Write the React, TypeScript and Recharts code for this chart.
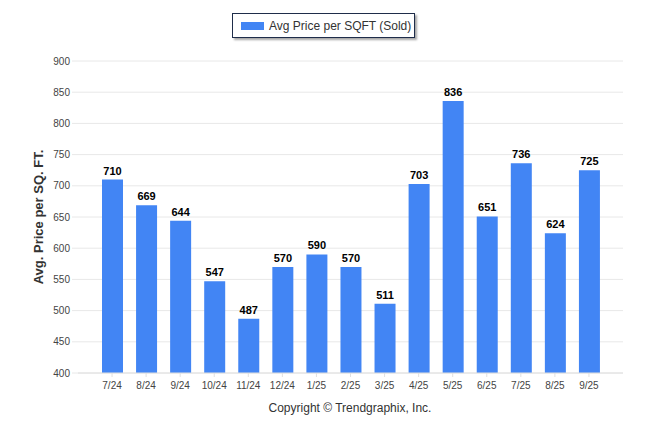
import React from "react";
import {
  BarChart,
  Bar,
  XAxis,
  YAxis,
  CartesianGrid,
  LabelList,
} from "recharts";

const months = ["7/24", "8/24", "9/24", "10/24", "11/24", "12/24", "1/25", "2/25", "3/25", "4/25", "5/25", "6/25", "7/25", "8/25", "9/25"];
const avgPrice = [710, 669, 644, 547, 487, 570, 590, 570, 511, 703, 836, 651, 736, 624, 725];
const yTicks = [400, 450, 500, 550, 600, 650, 700, 750, 800, 850, 900];

const data = months.map((m, i) => ({ month: m, price: avgPrice[i] }));

const font = "'Liberation Sans', Arial, sans-serif";

function LegendBox() {
  return (
    <div
      style={{
        position: "absolute",
        left: 232,
        top: 13,
        width: 183,
        height: 25,
        boxSizing: "border-box",
        border: "1px solid #1f2d4a",
        boxShadow: "2px 2px 2px rgba(0,0,0,0.35)",
        background: "#fff",
        display: "flex",
        alignItems: "center",
        paddingLeft: 8,
        fontFamily: font,
        fontSize: 12,
        color: "#333",
      }}
    >
      <span style={{ width: 23, height: 8, background: "#4285F4", marginRight: 5, display: "inline-block" }} />
      <span>Avg Price per SQFT (Sold)</span>
    </div>
  );
}

export default function App() {
  return (
    <div style={{ position: "absolute", left: 0, top: 0, width: 646, height: 434, background: "#fff" }}>
      <BarChart
        width={646}
        height={434}
        data={data}
        margin={{ top: 61, right: 23, left: 28, bottom: 31 }}
      >
        <CartesianGrid vertical={false} stroke="#e8e8e8" />
        <XAxis
          dataKey="month"
          padding={{ left: 17, right: 17 }}
          tick={{ fontSize: 10, fill: "#444", fontFamily: font }}
          tickLine={{ stroke: "#e0e0e0" }}
          axisLine={{ stroke: "#e0e0e0" }}
          tickSize={4}
          tickMargin={5}
          interval={0}
        />
        <YAxis
          width={50}
          domain={[400, 900]}
          ticks={yTicks}
          interval={0}
          tick={{ fontSize: 10, fill: "#444", fontFamily: font }}
          tickLine={{ stroke: "#e8e8e8" }}
          tickSize={6}
          axisLine={false}
          allowDataOverflow
          label={{
            value: "Avg. Price per SQ. FT.",
            angle: -90,
            position: "center",
            dx: -15,
            style: { fontSize: 13, fontWeight: "bold", fill: "#333", fontFamily: font },
          }}
        />
        <Bar dataKey="price" fill="#4285F4" barSize={21} isAnimationActive={false}>
          <LabelList
            dataKey="price"
            position="top"
            offset={5}
            style={{ fontSize: 11, fontWeight: "bold", fill: "#000", fontFamily: font }}
          />
        </Bar>
      </BarChart>
      <LegendBox />
      <div
        style={{
          position: "absolute",
          left: 0,
          width: 700,
          top: 401,
          textAlign: "center",
          fontFamily: font,
          fontSize: 12,
          color: "#333",
        }}
      >
        Copyright © Trendgraphix, Inc.
      </div>
    </div>
  );
}
